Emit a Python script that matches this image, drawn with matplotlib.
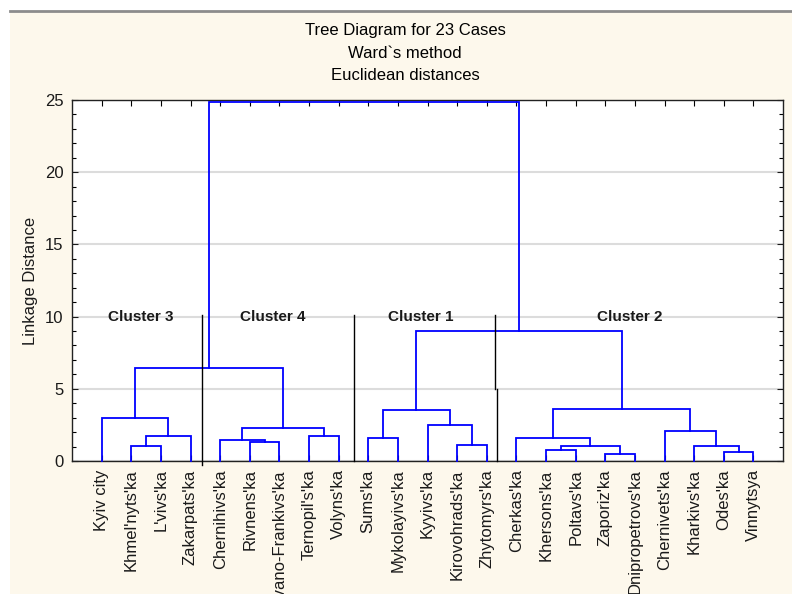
import matplotlib
matplotlib.use("Agg")
import matplotlib.pyplot as plt
from matplotlib.patches import Rectangle
from matplotlib.lines import Line2D

plt.rcParams['font.family'] = ['Liberation Sans', 'DejaVu Sans']

leaves = ["Kyiv city", "Khmel'nyts'ka", "L'vivs'ka", "Zakarpats'ka",
          "Chernihivs'ka", "Rivnens'ka", "Ivano-Frankivs'ka", "Ternopil's'ka",
          "Volyns'ka", "Sums'ka", "Mykolayivs'ka", "Kyyivs'ka",
          "Kirovohrads'ka", "Zhytomyrs'ka", "Cherkas'ka", "Khersons'ka",
          "Poltavs'ka", "Zaporiz'ka", "Dnipropetrovs'ka", "Chernivets'ka",
          "Kharkivs'ka", "Odes'ka", "Vinnytsya"]

# merges: (left node, right node, linkage distance); new nodes get ids 23, 24, ...
merge_left = [1, 23, 0, 5, 4, 7, 27, 25, 9, 12, 11, 31, 15, 17, 35, 14, 21, 20, 19, 38, 34, 30]
merge_right = [2, 3, 24, 6, 26, 8, 28, 29, 10, 13, 32, 33, 16, 18, 36, 37, 22, 39, 40, 41, 42, 43]
merge_height = [1.04, 1.75, 2.95, 1.34, 1.43, 1.75, 2.26, 6.46, 1.61, 1.08, 2.49, 3.51,
                0.76, 0.51, 1.02, 1.61, 0.62, 1.01, 2.10, 3.58, 9.02, 24.85]

cluster_names = ["Cluster 3", "Cluster 4", "Cluster 1", "Cluster 2"]
cluster_label_x = [2.33, 6.79, 11.76, 18.82]
separator_x = [4.38, 9.53, 14.29, 14.35]
separator_lo = [-0.25, 0, 5, 0]
separator_hi = [10.1, 10.1, 10.1, 5]

fig = plt.figure(figsize=(7.92, 5.94), dpi=100, facecolor='white')
fig.patches.append(Rectangle((10 / 792, 0), 1, 583 / 594, transform=fig.transFigure,
                             facecolor='#fdf8ec', edgecolor='none', zorder=-10))
fig.lines.append(Line2D([10 / 792, 1], [583 / 594, 583 / 594], transform=fig.transFigure,
                        color='#8c8c8c', lw=2))

ax = fig.add_axes([72 / 792, 1 - 461 / 594, 711 / 792, 361 / 594])
ax.set_facecolor('white')

# positions and heights of nodes
xpos = {i: i + 1 for i in range(len(leaves))}
ypos = {i: 0.0 for i in range(len(leaves))}
for k, (a, b, h) in enumerate(zip(merge_left, merge_right, merge_height)):
    node = len(leaves) + k
    xa, xb = xpos[a], xpos[b]
    ax.plot([xa, xa, xb, xb], [ypos[a], h, h, ypos[b]], color='#0000ff', lw=1.3,
            solid_joinstyle='miter', zorder=3, clip_on=False)
    xpos[node] = (xa + xb) / 2
    ypos[node] = h

for x, lo, hi in zip(separator_x, separator_lo, separator_hi):
    ax.plot([x, x], [lo, hi], color='black', lw=1, zorder=4, clip_on=False)

for name, x in zip(cluster_names, cluster_label_x):
    ax.text(x, 10.0, name, ha='center', va='center', fontsize=11,
            fontweight='bold', color='#1a1a1a', zorder=5)

ax.set_xlim(0, 24)
ax.set_ylim(0, 25)
ax.set_xticks(range(1, len(leaves) + 1))
ax.set_xticklabels(leaves, rotation=90, fontsize=12, color='#1a1a1a')
ax.set_yticks([0, 5, 10, 15, 20, 25])
ax.set_yticks(range(0, 26), minor=True)
ax.tick_params(axis='y', labelsize=12, colors='#1a1a1a')
ax.tick_params(direction='in', top=True, right=True, length=4, width=0.8, pad=6)
ax.tick_params(which='minor', direction='in', left=True, right=True, length=3, width=0.8)
ax.grid(axis='y', which='major', color='#dcdcdc', lw=1.5, zorder=0)
ax.set_axisbelow(True)
for s in ax.spines.values():
    s.set_color('#222222')
    s.set_linewidth(1)

ax.set_ylabel('Linkage Distance', fontsize=12, color='#1a1a1a', labelpad=5)

fig.text(405 / 792, 1 - 31 / 594, 'Tree Diagram for 23 Cases', ha='center', va='center', fontsize=12)
fig.text(405 / 792, 1 - 54 / 594, 'Ward`s method', ha='center', va='center', fontsize=12)
fig.text(405 / 792, 1 - 76 / 594, 'Euclidean distances', ha='center', va='center', fontsize=12)

fig.savefig('out.png', dpi=100, facecolor=fig.get_facecolor())
